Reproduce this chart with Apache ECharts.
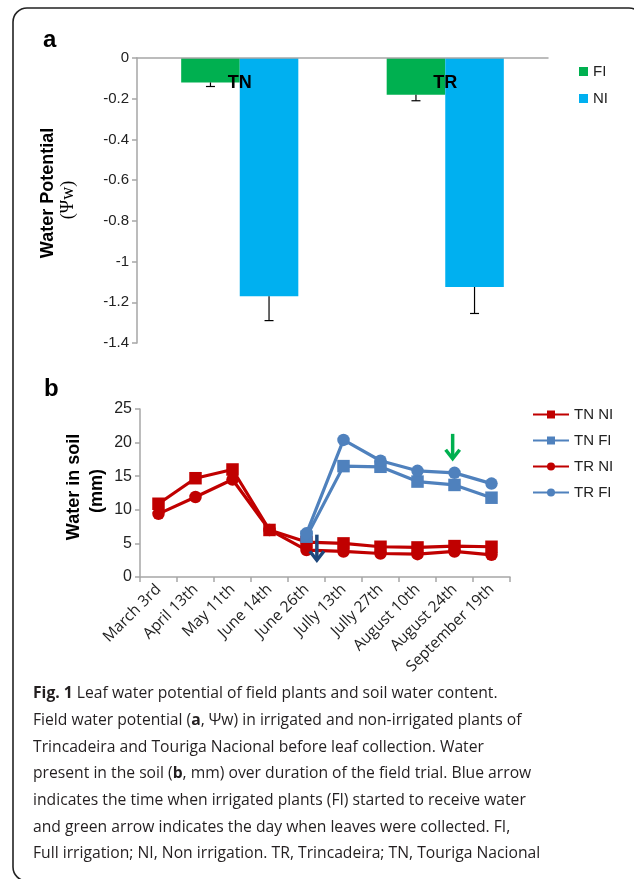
<!DOCTYPE html>
<html><head><meta charset="utf-8">
<script src="https://cdn.jsdelivr.net/npm/echarts@6/dist/echarts.min.js"></script>
<style>html,body{margin:0;padding:0;background:#fff}#c{width:634px;height:879px}</style>
</head><body><div id="c"></div>
<script>
// ---- Panel a data ----
const catA = ['TN', 'TR'];
const fiA = [-0.12, -0.18];
const niA = [-1.17, -1.125];
const fiErr = [0.02, 0.03];
const niErr = [0.12, 0.13];

// ---- Panel b data ----
const dates = ['March 3rd','April 13th','May 11th','June 14th','June 26th','Jully 13th','Jully 27th','August 10th','August 24th','September 19th'];
const tnNI = [10.9, 14.7, 16.0, 7.0, 5.2, 5.0, 4.5, 4.4, 4.6, 4.5];
const tnFI = [null, null, null, null, 6.0, 16.5, 16.4, 14.2, 13.7, 11.8];
const trNI = [9.4, 11.9, 14.5, 7.0, 4.0, 3.8, 3.5, 3.4, 3.8, 3.3];
const trFI = [null, null, null, null, 6.5, 20.4, 17.3, 15.8, 15.5, 13.9];

// arrows (category position, top value, bottom value)
const arrowX = [4.28, 7.95];
const arrowTop = [6.3, 21.3];
const arrowBottom = [2.5, 17.6];
const arrowColor = ['#1f497d', '#00b050'];

const caption = [
  '{b|Fig. 1} Leaf water potential of field plants and soil water content.',
  'Field water potential ({b|a}, Ψw) in irrigated and non-irrigated plants of',
  'Trincadeira and Touriga Nacional before leaf collection. Water',
  'present in the soil ({b|b}, mm) over duration of the field trial. Blue arrow',
  'indicates the time when irrigated plants (FI) started to receive water',
  'and green arrow indicates the day when leaves were collected. FI,',
  'Full irrigation; NI, Non irrigation. TR, Trincadeira; TN, Touriga Nacional'
];

const GREEN = '#00b050', CYAN = '#00b0f0', RED = '#c00000', BLUE = '#4f81bd';
const AX = '#a6a6a6';
const CAT_GAP = 0.43;

const chart = echarts.init(document.getElementById('c'), null, {renderer: 'canvas'});

function errRender(isFI) {
  return function (params, api) {
    const idx = api.value(0), v = api.value(1), e = api.value(2);
    const band = api.size([1, 0])[0];
    const bw = band * (1 - CAT_GAP) / 2;
    const c0 = api.coord([idx, v]);
    const c1 = api.coord([idx, v - e]);
    const x = c0[0] + (isFI ? -bw / 2 : bw / 2);
    const cap = 4.5;
    return {
      type: 'group',
      children: [
        {type: 'line', shape: {x1: x, y1: c0[1], x2: x, y2: c1[1]}, style: {stroke: '#000', lineWidth: 1.2}},
        {type: 'line', shape: {x1: x - cap, y1: c1[1], x2: x + cap, y2: c1[1]}, style: {stroke: '#000', lineWidth: 1.2}}
      ]
    };
  };
}

const option = {
  animation: false,
  grid: [
    {left: 137, top: 58, width: 411, height: 285},
    {left: 140, top: 409, width: 370, height: 168}
  ],
  legend: [
    {
      data: ['FI', 'NI'], orient: 'vertical', left: 574, top: 59,
      itemWidth: 9, itemHeight: 9, itemGap: 12, icon: 'rect',
      textStyle: {fontFamily: 'Liberation Sans, Arial', fontSize: 15, color: '#222'}
    },
    {
      data: ['TN NI', 'TN FI', 'TR NI', 'TR FI'], orient: 'vertical', left: 527, top: 402,
      itemWidth: 36, itemHeight: 10, itemGap: 11,
      textStyle: {fontFamily: 'Liberation Sans, Arial', fontSize: 15, color: '#222'}
    }
  ],
  xAxis: [
    {
      type: 'category', data: catA, gridIndex: 0, z: 10, position: 'top',
      axisLine: {lineStyle: {color: AX, width: 1.5}},
      axisTick: {show: false},
      axisLabel: {inside: true, margin: 16, fontFamily: 'Liberation Sans, Arial', fontWeight: 'bold', fontSize: 18, color: '#000'}
    },
    {
      type: 'category', data: dates, gridIndex: 1, boundaryGap: true,
      axisLine: {lineStyle: {color: AX, width: 1.5}},
      axisTick: {show: true, length: 5, lineStyle: {color: AX, width: 1.5}},
      axisLabel: {interval: 0, rotate: 45, margin: 10, fontFamily: 'Open Sans', fontSize: 15.5, color: '#222'}
    }
  ],
  yAxis: [
    {
      type: 'value', gridIndex: 0, min: -1.4, max: 0, interval: 0.2,
      axisLine: {show: true, lineStyle: {color: AX, width: 1.5}},
      axisTick: {show: true, length: 5, lineStyle: {color: AX, width: 1.5}},
      splitLine: {show: false},
      axisLabel: {margin: 8, fontFamily: 'Liberation Sans, Arial', fontSize: 15, color: '#222'}
    },
    {
      type: 'value', gridIndex: 1, min: 0, max: 25, interval: 5,
      axisLine: {show: true, lineStyle: {color: AX, width: 1.5}},
      axisTick: {show: true, length: 5, lineStyle: {color: AX, width: 1.5}},
      splitLine: {show: false},
      axisLabel: {margin: 8, fontFamily: 'Liberation Sans, Arial', fontSize: 16, color: '#222'}
    }
  ],
  series: [
    {name: 'FI', type: 'bar', xAxisIndex: 0, yAxisIndex: 0, data: fiA, itemStyle: {color: GREEN},
      barGap: '0%', barCategoryGap: (CAT_GAP * 100) + '%'},
    {name: 'NI', type: 'bar', xAxisIndex: 0, yAxisIndex: 0, data: niA, itemStyle: {color: CYAN},
      barGap: '0%', barCategoryGap: (CAT_GAP * 100) + '%'},
    {type: 'custom', xAxisIndex: 0, yAxisIndex: 0, renderItem: errRender(true), z: 5,
      data: fiA.map((v, i) => [i, v, fiErr[i]])},
    {type: 'custom', xAxisIndex: 0, yAxisIndex: 0, renderItem: errRender(false), z: 5,
      data: niA.map((v, i) => [i, v, niErr[i]])},
    {name: 'TN NI', type: 'line', xAxisIndex: 1, yAxisIndex: 1, data: tnNI, symbol: 'rect', symbolSize: 12.5,
      lineStyle: {color: RED, width: 3.2}, itemStyle: {color: RED}},
    {name: 'TN FI', type: 'line', xAxisIndex: 1, yAxisIndex: 1, data: tnFI, symbol: 'rect', symbolSize: 12.5,
      lineStyle: {color: BLUE, width: 3.2}, itemStyle: {color: BLUE}},
    {name: 'TR NI', type: 'line', xAxisIndex: 1, yAxisIndex: 1, data: trNI, symbol: 'circle', symbolSize: 12.5,
      lineStyle: {color: RED, width: 3.2}, itemStyle: {color: RED}},
    {name: 'TR FI', type: 'line', xAxisIndex: 1, yAxisIndex: 1, data: trFI, symbol: 'circle', symbolSize: 12.5,
      lineStyle: {color: BLUE, width: 3.2}, itemStyle: {color: BLUE}}
  ]
};
chart.setOption(option);

// ---- annotations / decorations ----
const g = [];
g.push({type: 'rect', shape: {x: 13, y: 8, width: 630, height: 873, r: 14},
  style: {fill: 'none', stroke: '#222', lineWidth: 1.6}, silent: true, z: 100});
g.push({type: 'text', left: 43, top: 28, style: {text: 'a', font: 'bold 24px "Liberation Sans", Arial', fill: '#000'}});
g.push({type: 'text', left: 44, top: 377, style: {text: 'b', font: 'bold 24px "Liberation Sans", Arial', fill: '#000'}});

function vtext(txt, cx, cy, font) {
  return {type: 'text', x: cx, y: cy, rotation: Math.PI / 2,
    style: {text: txt, font: font, fill: '#000', align: 'center', verticalAlign: 'middle'}};
}
g.push(vtext('Water Potential', 48, 193, 'bold 18px "Liberation Sans", Arial'));
g.push(vtext('(Ψw)', 68, 200, '18px "Liberation Serif", "Times New Roman", serif'));
g.push(vtext('Water in soil', 74, 487, 'bold 18px "Liberation Sans", Arial'));
g.push(vtext('(mm)', 97, 491, 'bold 18px "Liberation Sans", Arial'));

function px(idx, val) {
  const i0 = Math.floor(idx), f = idx - i0;
  const a = chart.convertToPixel({xAxisIndex: 1, yAxisIndex: 1}, [i0, val]);
  const b = chart.convertToPixel({xAxisIndex: 1, yAxisIndex: 1}, [i0 + 1, val]);
  return [a[0] + f * (b[0] - a[0]), a[1]];
}
arrowX.forEach((ax, k) => {
  const t = px(ax, arrowTop[k]), b = px(ax, arrowBottom[k]);
  const hw = 7, hh = 9;
  g.push({type: 'line', shape: {x1: t[0], y1: t[1], x2: b[0], y2: b[1] - 2}, style: {stroke: arrowColor[k], lineWidth: 3.5}, z: 50});
  g.push({type: 'polyline', shape: {points: [[b[0] - hw, b[1] - hh], [b[0], b[1]], [b[0] + hw, b[1] - hh]]},
    style: {stroke: arrowColor[k], lineWidth: 3.5, fill: 'none'}, z: 50});
});

caption.forEach((line, i) => {
  g.push({type: 'text', x: 33, y: 694 + i * 26.67,
    style: {text: line, fill: '#231f20', font: '15.7px "Open Sans"', verticalAlign: 'middle',
      rich: {b: {fontWeight: 'bold', fontSize: 15.7, fontFamily: 'Open Sans', fill: '#231f20'}}}});
});

chart.setOption({graphic: g});
</script>
</body></html>
